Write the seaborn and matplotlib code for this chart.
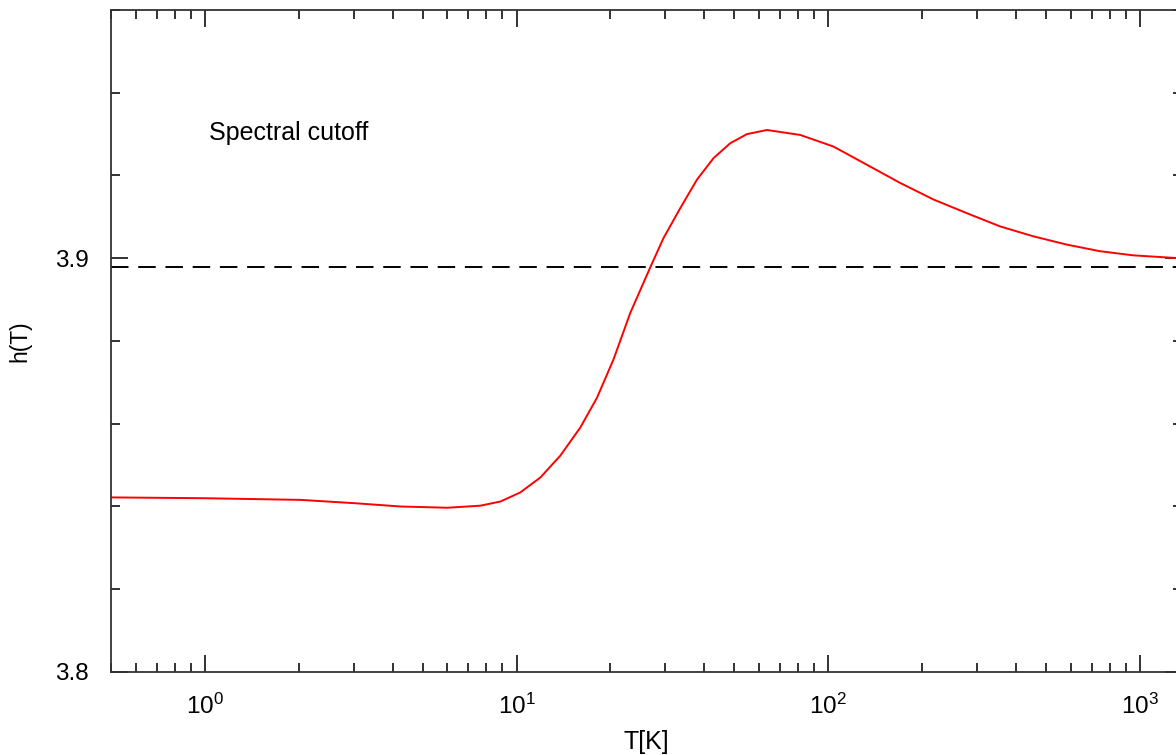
import numpy as np
import pandas as pd
import matplotlib
matplotlib.use("Agg")
import matplotlib.pyplot as plt
import matplotlib.ticker as mticker
import seaborn as sns

# Data
T_values = [0.5, 1.0, 2.027, 3.02, 4.241, 6.0, 7.654, 8.872, 10.28, 11.92, 13.82,
            16.02, 18.12, 20.48, 23.17, 26.85, 29.62, 33.51, 37.91, 42.85, 48.48,
            54.83, 63.56, 81.30, 103.9, 133.0, 170.1, 217.5, 278.2, 355.8, 455.0,
            582.1, 744.4, 951.9, 1279.0, 1364.0]
h_values = [3.8422, 3.8420, 3.8416, 3.8408, 3.8400, 3.8397, 3.8402, 3.8412, 3.8434,
            3.8470, 3.8523, 3.8591, 3.8663, 3.8756, 3.8868, 3.8978, 3.9049, 3.9121,
            3.9190, 3.9242, 3.9278, 3.9300, 3.9310, 3.9298, 3.9270, 3.9226, 3.9182,
            3.9142, 3.9109, 3.9077, 3.9053, 3.9033, 3.9017, 3.9007, 3.9001, 3.9000]
reference_level = 3.8979
x_tick_values = [1, 10, 100, 1000]
x_tick_labels = [r"$10^{0}$", r"$10^{1}$", r"$10^{2}$", r"$10^{3}$"]
y_tick_values = [3.8, 3.9]
y_tick_labels = ["3.8", "3.9"]
annotation = "Spectral cutoff"
x_label = "T[K]"
y_label = "h(T)"

sns.set_theme(style="white")
plt.rcParams["font.family"] = ["Liberation Sans", "DejaVu Sans"]
plt.rcParams["mathtext.fontset"] = "custom"
plt.rcParams["mathtext.rm"] = "Liberation Sans"
plt.rcParams["mathtext.it"] = "Liberation Sans"
plt.rcParams["mathtext.default"] = "regular"

df = pd.DataFrame({"T": T_values, "h": h_values})

fig = plt.figure(figsize=(11.76, 7.55), dpi=100)
W, H = 1176, 755
ax = fig.add_axes([111 / W, 1 - 672 / H, (1182 - 111) / W, (672 - 10) / H])

sns.lineplot(data=df, x="T", y="h", ax=ax, color="#ff0000", linewidth=1.4,
             sort=False, estimator=None)
ax.axhline(reference_level, color="black", linewidth=1.4, linestyle=(0, (9, 5)))

ax.set_xscale("log")
ax.set_xlim(0.5, 1364)
ax.set_ylim(3.8, 3.96)

ax.xaxis.set_major_locator(mticker.FixedLocator(x_tick_values))
ax.xaxis.set_major_formatter(mticker.FixedFormatter(x_tick_labels))
ax.xaxis.set_minor_locator(mticker.LogLocator(base=10, subs=np.arange(2, 10), numticks=20))
ax.xaxis.set_minor_formatter(mticker.NullFormatter())

ax.yaxis.set_major_locator(mticker.FixedLocator(y_tick_values))
ax.yaxis.set_major_formatter(mticker.FixedFormatter(y_tick_labels))
ax.yaxis.set_minor_locator(mticker.MultipleLocator(0.02))

ax.tick_params(which="both", direction="in", top=True, right=True, bottom=True, left=True,
               color="#222222", width=1.3, labelsize=17.5, labelcolor="black")
ax.tick_params(which="major", length=12.5)
ax.tick_params(which="minor", length=6.5)
ax.tick_params(axis="y", which="major", pad=16)
ax.tick_params(axis="x", which="major", pad=15.5)

for side in ["left", "bottom", "top", "right"]:
    ax.spines[side].set_color("#333333")
    ax.spines[side].set_linewidth(1.3)
    ax.spines[side].set_visible(True)

ax.set_xlabel(x_label, fontsize=18, labelpad=8, color="black")
ax.set_ylabel(y_label, fontsize=16.5, labelpad=17, color="black")

ax.text(0.0915, 0.814, annotation, transform=ax.transAxes,
        fontsize=18, color="black", ha="left", va="center")

fig.savefig("out.png", dpi=100, facecolor="white")
